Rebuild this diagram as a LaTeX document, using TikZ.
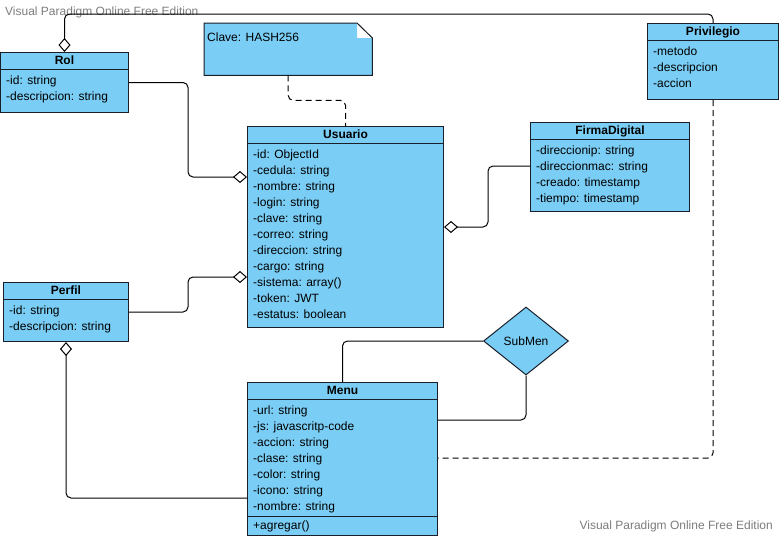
\documentclass[tikz,border=0pt]{standalone}
\usepackage{fontspec}
\setmainfont{Liberation Sans}
\usetikzlibrary{arrows.meta,shapes.geometric,calc}
\definecolor{umlfill}{RGB}{122,205,245}
\definecolor{umlline}{RGB}{25,30,40}
\definecolor{wmgray}{RGB}{125,125,125}
\tikzset{
  cls/.style={draw=umlline, fill=umlfill, line width=1pt, anchor=north west, inner sep=0pt, rectangle},
  ttl/.style={font=\bfseries\fontsize{12}{14}\selectfont, anchor=base, inner sep=0pt},
  att/.style={font=\fontsize{12}{14}\selectfont, anchor=base west, inner sep=0pt},
  wmk/.style={font=\fontsize{12}{14}\selectfont, text=wmgray, inner sep=0pt},
  link/.style={draw=black, line width=1pt, rounded corners=5pt},
  aggS/.style={link, {Diamond[open,length=14pt,width=12pt]}-},
  aggE/.style={link, -{Diamond[open,length=14pt,width=12pt]}},
  dsh/.style={link, dash pattern=on 6pt off 4pt},
}
\newcommand\umlclass[7]{%
  \node[cls, minimum width=#4, minimum height=#5] (#1) at (#2,#3) {};
  \draw[umlline, line width=1pt] ([yshift=-17pt]#1.north west) -- ([yshift=-17pt]#1.north east);
  \node[ttl] (#1-t) at ($(#1.north)+(0,12.5)$) {#6};
  \foreach \r [count=\i] in {#7} {
    \node[att] (#1-\i) at ($(#1.north west)+(6,16.5+16*\i)$) {\r};
  }
}
\begin{document}
\begin{tikzpicture}[x=1pt, y=-1pt]
\useasboundingbox (0,0) rectangle (779,536);
\fill[white] (0,0) rectangle (779,536);

% watermarks
\node[wmk, anchor=west] (wm1) at (5,12) {Visual Paradigm Online Free Edition};
\node[wmk, anchor=east] (wm2) at (773,526) {Visual Paradigm Online Free Edition};

% classes
\umlclass{rol}{0}{52}{128}{60}{Rol}{-id: string, -descripcion: string}
\umlclass{priv}{647}{23}{131}{76}{Privilegio}{-metodo, -descripcion, -accion}
\umlclass{usuario}{247}{126}{196}{201}{Usuario}{-id: ObjectId, -cedula: string, -nombre: string, -login: string, -clave: string, -correo: string, -direccion: string, -cargo: string, -sistema: array(), -token: JWT, -estatus: boolean}
\umlclass{firma}{530}{122}{159}{89}{FirmaDigital}{-direccionip: string, -direccionmac: string, -creado: timestamp, -tiempo: timestamp}
\umlclass{perfil}{3}{282}{125}{59}{Perfil}{-id: string, -descripcion: string}
\umlclass{menu}{247}{382}{190}{153}{Menu}{-url: string, -js: javascritp-code, -accion: string, -clase: string, -color: string, -icono: string, -nombre: string}
\draw[umlline, line width=1pt] ([yshift=-134pt]menu.north west) -- ([yshift=-134pt]menu.north east);
\node[att] (menu-m1) at ($(menu.north west)+(6,147.5)$) {+agregar()};

% note
\node[minimum width=168pt, minimum height=52pt, anchor=north west, inner sep=0pt] (note) at (204,23) {};
\fill[umlfill] (note.north west) -- ++(153,0) -- ++(0,15) -- ++(15,0) |- (note.south west) -- cycle;
\draw[umlline, line width=1pt] (note.north west) -- ++(153,0) -- ([yshift=-15pt]note.north east) -- (note.south east) -- (note.south west) -- cycle;
\node[att] (note-t) at ($(note.north west)+(3,18.5)$) {Clave: HASH256};

% association diamond
\node[diamond, draw=umlline, fill=umlfill, line width=1pt, minimum width=85pt, minimum height=68pt, inner sep=0pt, font=\fontsize{12}{14}\selectfont] (submen) at (526,341) {SubMen};

% connectors
\draw[aggS] (rol.north) -- ++(0,-38) -| (priv.north);
\draw[aggE] (rol.east) -- ++(59,0) |- ([yshift=-51pt]usuario.north west);
\draw[aggE] (perfil.east) -- ++(59,0) |- ([yshift=-151pt]usuario.north west);
\draw[aggS] (perfil.south) |- ([yshift=-116pt]menu.north west);
\draw[aggE] ([yshift=-44pt]firma.north west) -- ++(-42,0) |- ([yshift=-101pt]usuario.north east);
\draw[dsh] (note.south) -- ++(0,25) -| (usuario.north);
\draw[link] (menu.north) |- (submen.west);
\draw[link] (submen.south) |- ([yshift=-38pt]menu.north east);
\draw[dsh] (priv.south) |- ([yshift=-76pt]menu.north east);
\end{tikzpicture}
\end{document}
